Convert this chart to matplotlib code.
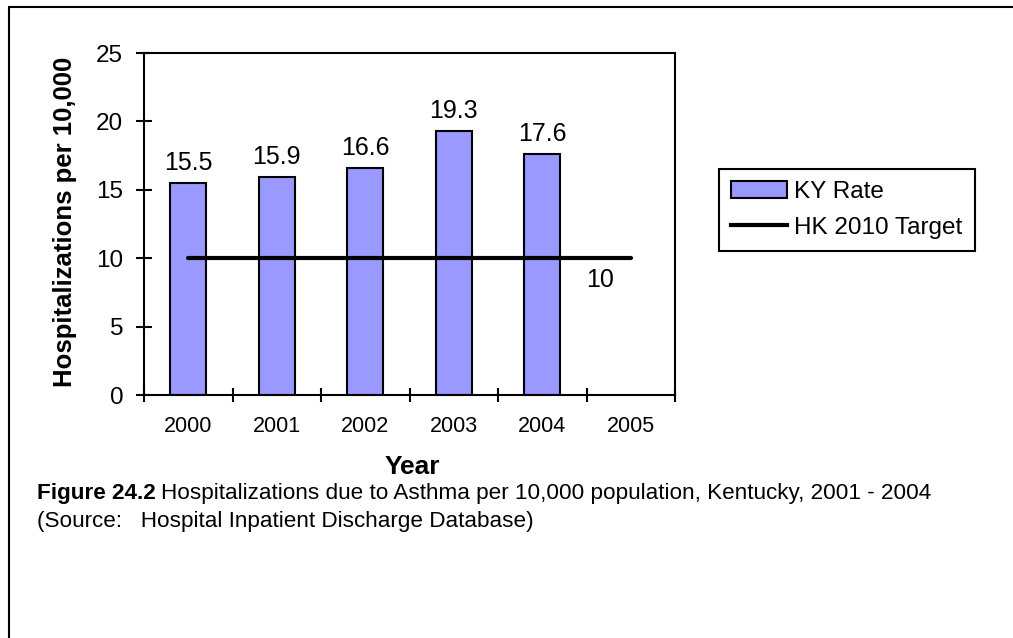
import matplotlib
matplotlib.use("Agg")
import matplotlib.pyplot as plt
from matplotlib.patches import Rectangle, Patch
from matplotlib.lines import Line2D

plt.rcParams['font.family'] = ['Liberation Sans', 'DejaVu Sans']

years = ['2000', '2001', '2002', '2003', '2004', '2005']
ky_rate = [15.5, 15.9, 16.6, 19.3, 17.6]
target = [10, 10, 10, 10, 10, 10]
bar_color = '#9999ff'

W, H = 1013, 638
fig = plt.figure(figsize=(W / 100, H / 100), dpi=100)
ax = fig.add_axes([144 / W, 1 - 395 / H, 531 / W, 342 / H])

xs = list(range(len(years)))
ax.bar(xs[:len(ky_rate)], ky_rate, width=0.41, color=bar_color,
       edgecolor='black', linewidth=1.5, zorder=2)
ax.plot(xs, target, color='black', linewidth=3, solid_capstyle='round', zorder=3)

for x, v in zip(xs, ky_rate):
    ax.annotate(f'{v}', (x, v), xytext=(0, 8), textcoords='offset pixels',
                ha='center', va='bottom', fontsize=18)
ax.annotate(f'{target[-1]}', (xs[-1], target[-1]), xytext=(-31, -22),
            textcoords='offset pixels', ha='center', va='center', fontsize=18)

ax.set_xlim(-0.5, len(years) - 0.5)
ax.set_ylim(0, 25)
ax.set_yticks(range(0, 26, 5))
ax.set_xticks([x - 0.5 for x in range(len(years) + 1)])
ax.set_xticklabels([])
ax.set_xticks(xs, minor=True)
ax.set_xticklabels(years, minor=True, fontsize=15.5)
ax.tick_params(axis='x', which='major', direction='inout', length=10, width=1.5)
ax.tick_params(axis='x', which='minor', length=0, pad=15)
ax.tick_params(axis='y', direction='inout', length=12, width=1.5, labelsize=17.5, pad=9)
for s in ax.spines.values():
    s.set_linewidth(1.5)

fig.text(65 / W, 1 - 222 / H, 'Hospitalizations per 10,000', rotation=90,
         ha='center', va='center', fontsize=18.5, fontweight='bold')
fig.text(412 / W, 1 - 467 / H, 'Year', ha='center', va='center',
         fontsize=19, fontweight='bold')

handles = [Patch(facecolor=bar_color, edgecolor='black', linewidth=1.5),
           Line2D([0], [0], color='black', linewidth=3)]
leg = fig.legend(handles, ['KY Rate', 'HK 2010 Target'], loc='center left',
                 bbox_to_anchor=(719 / W, 1 - 210 / H), fontsize=17.5,
                 frameon=True, fancybox=False, edgecolor='black', framealpha=1,
                 handlelength=2.3, handletextpad=0.3, borderpad=0.5,
                 labelspacing=0.55, borderaxespad=0)
leg.get_frame().set_linewidth(1.5)

# caption
fig.canvas.draw()
r = fig.canvas.get_renderer()
t1 = fig.text(37 / W, 1 - 493 / H, 'Figure 24.2', ha='left', va='center',
              fontsize=16.2, fontweight='bold')
bb = t1.get_window_extent(r)
fig.text(bb.x1 / W + 5 / W, 1 - 493 / H,
         'Hospitalizations due to Asthma per 10,000 population, Kentucky, 2001 - 2004',
         ha='left', va='center', fontsize=16.2)
fig.text(37 / W, 1 - 521 / H, '(Source:   Hospital Inpatient Discharge Database)',
         ha='left', va='center', fontsize=16.2)

# outer frame (only top and left visible)
fig.patches.append(Rectangle((8.5 / W, -0.5), 1.5, 1.5 - 7 / H, fill=False,
                             linewidth=1.5, edgecolor='black',
                             transform=fig.transFigure, figure=fig))

fig.savefig('out.png', dpi=100)
